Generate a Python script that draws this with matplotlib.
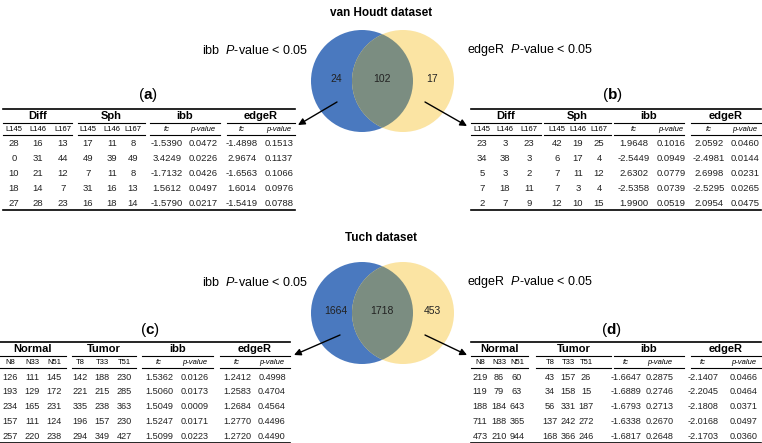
import matplotlib

matplotlib.use('Agg')

import matplotlib.pyplot as plt
from matplotlib.patches import Circle

plt.rcParams['font.family'] = ['Liberation Sans', 'DejaVu Sans']
plt.rcParams['mathtext.fontset'] = 'custom'
plt.rcParams['mathtext.rm'] = 'Liberation Sans'
plt.rcParams['mathtext.it'] = 'Liberation Sans:italic'
plt.rcParams['mathtext.bf'] = 'Liberation Sans:bold'

# ---- data ----
houdt_counts = [24, 102, 17]
tuch_counts = [1664, 1718, 453]

houdt_groups = ['Diff', 'Sph', 'ibb', 'edgeR']
houdt_sub = ['L145', 'L146', 'L167', 'L145', 'L146', 'L167', 'fc', 'p-value', 'fc', 'p-value']
tuch_groups = ['Normal', 'Tumor', 'ibb', 'edgeR']
tuch_sub = ['N8', 'N33', 'N51', 'T8', 'T33', 'T51', 'fc', 'p-value', 'fc', 'p-value']

rows_a = [
    [28, 16, 13, 17, 11, 8, '-1.5390', '0.0472', '-1.4898', '0.1513'],
    [0, 31, 44, 49, 39, 49, '3.4249', '0.0226', '2.9674', '0.1137'],
    [10, 21, 12, 7, 11, 8, '-1.7132', '0.0426', '-1.6563', '0.1066'],
    [18, 14, 7, 31, 16, 13, '1.5612', '0.0497', '1.6014', '0.0976'],
    [27, 28, 23, 16, 18, 14, '-1.5790', '0.0217', '-1.5419', '0.0788'],
]
rows_b = [
    [23, 3, 23, 42, 19, 25, '1.9648', '0.1016', '2.0592', '0.0460'],
    [34, 38, 3, 6, 17, 4, '-2.5449', '0.0949', '-2.4981', '0.0144'],
    [5, 3, 2, 7, 11, 12, '2.6302', '0.0779', '2.6998', '0.0231'],
    [7, 18, 11, 7, 3, 4, '-2.5358', '0.0739', '-2.5295', '0.0265'],
    [2, 7, 9, 12, 10, 15, '1.9900', '0.0519', '2.0954', '0.0475'],
]
rows_c = [
    [126, 111, 145, 142, 188, 230, '1.5362', '0.0126', '1.2412', '0.4998'],
    [193, 129, 172, 221, 215, 285, '1.5060', '0.0173', '1.2583', '0.4704'],
    [234, 165, 231, 335, 238, 363, '1.5049', '0.0009', '1.2684', '0.4564'],
    [157, 111, 124, 196, 157, 230, '1.5247', '0.0171', '1.2770', '0.4496'],
    [257, 220, 238, 294, 349, 427, '1.5099', '0.0223', '1.2720', '0.4490'],
]
rows_d = [
    [219, 86, 60, 43, 157, 26, '-1.6647', '0.2875', '-2.1407', '0.0466'],
    [119, 79, 63, 34, 158, 15, '-1.6889', '0.2746', '-2.2045', '0.0464'],
    [188, 184, 643, 56, 331, 187, '-1.6793', '0.2713', '-2.1808', '0.0371'],
    [711, 188, 365, 137, 242, 272, '-1.6338', '0.2670', '-2.0168', '0.0497'],
    [473, 210, 944, 168, 366, 246, '-1.6817', '0.2648', '-2.1703', '0.0360'],
]

BLUE = '#4a79bf'
YELLOW = '#fbe4a3'
OVERLAP = '#7b8d81'
TEXT = '#222222'

fig = plt.figure(figsize=(7.62, 4.43), dpi=100)
ax = fig.add_axes([0, 0, 1, 1])
ax.set_xlim(0, 762)
ax.set_ylim(443, 0)
ax.axis('off')


def venn(title, title_y, cy, counts):
    ax.text(381, title_y, title, ha='center', va='center', fontsize=8.5, fontweight='bold')
    c1 = Circle((362, cy), 51, facecolor=BLUE, edgecolor='none')
    c2 = Circle((403, cy), 51, facecolor=YELLOW, edgecolor='none')
    ax.add_patch(c1)
    ax.add_patch(c2)
    # intersection: blue disc clipped to the yellow one
    ov = Circle((362, cy), 51, facecolor=OVERLAP, edgecolor='none')
    ax.add_patch(ov)
    ov.set_clip_path(c2)
    for x, n in zip([336, 382, 432], counts):
        ax.text(x, cy - 2, str(n), ha='center', va='center', fontsize=7.5, color=TEXT)
    ax.text(255, cy - 31, r'ibb  $\it{P}$-value < 0.05', ha='center', va='center', fontsize=9)
    ax.text(467, cy - 31, r'edgeR  $\it{P}$-value < 0.05', ha='left', va='center', fontsize=9)


def arrow(x0, y0, x1, y1):
    ax.annotate('', xy=(x1, y1), xytext=(x0, y0),
                arrowprops=dict(arrowstyle='-|>', color='black', lw=1.0,
                                mutation_scale=10, shrinkA=0, shrinkB=0))


def table(label, label_xy, top, spans, cols, groups, sub, rows, fs=6.8):
    ax.text(label_xy[0], label_xy[1], r'($\bf{%s}$)' % label, ha='center', va='center', fontsize=11)
    left, right = spans[0][0], spans[-1][1]
    ax.plot([left, right], [top, top], color='black', lw=1.2)
    for (a, b), g in zip(spans, groups):
        ax.text((a + b) / 2, top + 7, g, ha='center', va='center', fontsize=8, fontweight='bold')
        ax.plot([a, b], [top + 14, top + 14], color='black', lw=0.8)
    for x, s in zip(cols, sub):
        style = 'normal' if s.startswith(('L', 'N', 'T')) else 'italic'
        ax.text(x, top + 20.5, s, ha='center', va='center', fontsize=5.5, fontstyle=style)
    for (a, b) in spans:
        ax.plot([a, b], [top + 26, top + 26], color='black', lw=0.8)
    step = 14.8
    for i, r in enumerate(rows):
        y = top + 35 + i * step
        for x, v in zip(cols, r):
            ax.text(x, y, str(v), ha='center', va='center', fontsize=fs, color=TEXT)
    bottom = top + 35 + (len(rows) - 1) * step + 7
    ax.plot([left, right], [bottom, bottom], color='black', lw=1.2)


venn('van Houdt dataset', 13, 81, houdt_counts)
venn('Tuch dataset', 238, 313, tuch_counts)

arrow(337, 102, 298, 125)
arrow(425, 102, 467, 126)
arrow(340, 335, 294, 355)
arrow(425, 335, 467, 355)

table('a', (148, 95), 109,
      [(3, 72), (78, 145), (150, 220), (227, 295)],
      [14, 38, 63, 88, 112, 133, 167, 203, 242, 279],
      houdt_groups, houdt_sub, rows_a)
table('b', (612, 95), 109,
      [(471, 541), (544, 611), (614, 684), (691, 761)],
      [482, 505, 529, 557, 578, 599, 634, 671, 709, 745],
      houdt_groups, houdt_sub, rows_b)
table('c', (150, 330), 342,
      [(0, 66), (72, 136), (142, 213), (220, 290)],
      [10, 32, 54, 80, 102, 124, 159, 195, 237, 272],
      tuch_groups, tuch_sub, rows_c, fs=6.6)
table('d', (611, 330), 342,
      [(471, 528), (536, 611), (614, 684), (691, 761)],
      [480, 499, 517, 550, 568, 586, 626, 660, 703, 744],
      tuch_groups, tuch_sub, rows_d, fs=6.6)

fig.savefig('out.png', dpi=100)
